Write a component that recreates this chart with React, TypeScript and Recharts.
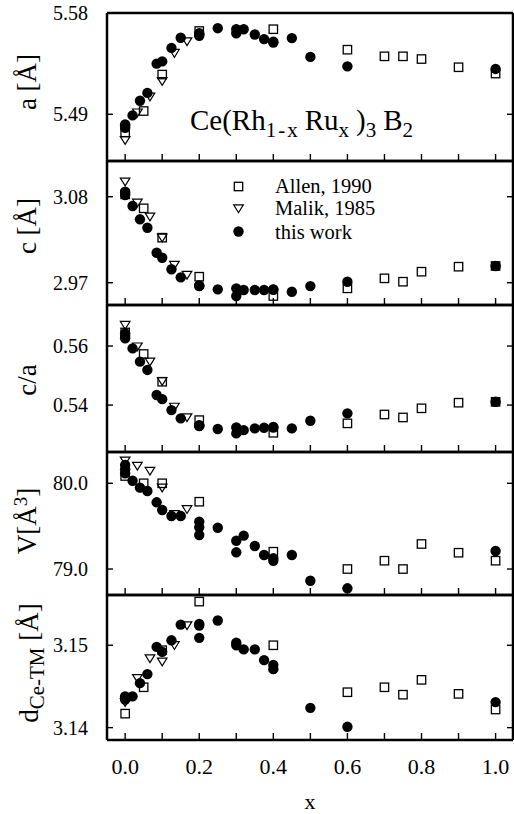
import React from 'react'
import { ScatterChart, Scatter, XAxis, YAxis } from 'recharts'

const FONT = "'Liberation Serif', 'Times New Roman', serif"

// composition x for each data set
const X_TICKS = [0, 0.1, 0.2, 0.3, 0.4, 0.5, 0.6, 0.7, 0.8, 0.9, 1.0]
const ALLEN_X = [0, 0.05, 0.1, 0.2, 0.4, 0.6, 0.7, 0.75, 0.8, 0.9, 1.0]
const MALIK_X = [0, 0.033, 0.067, 0.1, 0.133, 0.167]
const OURS_X = [
  0, 0, 0, 0.02, 0.04, 0.06, 0.085, 0.1, 0.125, 0.15, 0.2, 0.2, 0.2,
  0.25, 0.3, 0.3, 0.32, 0.35, 0.375, 0.4, 0.4, 0.45, 0.5, 0.6, 1.0,
]

// lattice parameter a [Å]
const A_ALLEN = [5.4739, 5.4929, 5.5253, 5.564, 5.5656, 5.5474, 5.5415, 5.5415, 5.5391, 5.5318, 5.5262]
const A_MALIK = [5.467, 5.4915, 5.5056, 5.5194, 5.5444, 5.5547]
const A_OURS = [
  5.481, 5.478, 5.48, 5.489, 5.502, 5.509, 5.535, 5.537, 5.549, 5.558, 5.562, 5.5597, 5.561,
  5.5665, 5.5656, 5.562, 5.5656, 5.5609, 5.5568, 5.5538, 5.5545, 5.5577, 5.541, 5.5326, 5.5303,
]

// lattice parameter c [Å]
const C_ALLEN = [3.083, 3.0652, 3.0276, 2.9777, 2.953, 2.9628, 2.9756, 2.9713, 2.9841, 2.9905, 2.9914]
const C_MALIK = [3.0992, 3.0723, 3.0544, 3.0276, 2.9927, 2.98]
const C_OURS = [
  3.0864, 3.0822, 3.084, 3.0681, 3.0511, 3.0403, 3.0084, 3.002, 2.9872, 2.9769, 2.9657, 2.9665, 2.966,
  2.9615, 2.9628, 2.953, 2.9607, 2.9607, 2.9607, 2.9615, 2.961, 2.9585, 2.9657, 2.9713, 2.9914,
]

// c/a
const CA_ALLEN = [0.5646, 0.5573, 0.5479, 0.5349, 0.5306, 0.5338, 0.5368, 0.5358, 0.5389, 0.5408, 0.5411]
const CA_MALIK = [0.5671, 0.5598, 0.5547, 0.5481, 0.5394, 0.5358]
const CA_OURS = [
  0.5643, 0.5626, 0.5635, 0.5592, 0.5547, 0.5519, 0.5434, 0.542, 0.5383, 0.5355, 0.5329, 0.5332, 0.533,
  0.5319, 0.5324, 0.5304, 0.5315, 0.5321, 0.5323, 0.5326, 0.5324, 0.5321, 0.5347, 0.5372, 0.5411,
]

// cell volume V [Å^3]
const V_ALLEN = [80.085, 80.0, 80.0, 79.785, 79.202, 79.0, 79.097, 79.0, 79.292, 79.19, 79.097]
const V_MALIK = [80.264, 80.202, 80.144, 79.949, 79.64, 79.697]
const V_OURS = [
  80.213, 80.163, 80.117, 80.03, 79.949, 79.91, 79.778, 79.688, 79.618, 79.618, 79.552, 79.486, 79.397,
  79.482, 79.33, 79.195, 79.389, 79.268, 79.163, 79.125, 79.097, 79.163, 78.863, 78.775, 79.21,
]

// Ce-TM distance [Å]
const D_ALLEN = [3.1417, 3.1449, 3.1494, 3.1553, 3.15, 3.1443, 3.1449, 3.144, 3.1458, 3.1441, 3.1422]
const D_MALIK = [3.1431, 3.146, 3.1484, 3.148, 3.15, 3.1524]
const D_OURS = [
  3.1438, 3.1434, 3.1436, 3.1438, 3.1454, 3.1465, 3.1498, 3.1492, 3.1506, 3.1525, 3.1526, 3.1509, 3.1524,
  3.153, 3.1503, 3.15, 3.1495, 3.1495, 3.1482, 3.1476, 3.1471, null, 3.1424, 3.1401, 3.1431,
]

const X_DOMAIN: [number, number] = [-0.049, 1.047]
const PLOT_LEFT = 107
const PLOT_RIGHT = 513

function pts(xs: number[], ys: (number | null)[]) {
  return xs
    .map((x, i) => ({ x, y: ys[i] }))
    .filter((p) => p.y != null)
}

const Square = (p: any) => (
  <rect x={p.cx - 4.2} y={p.cy - 4.2} width={8.4} height={8.4} fill="none" stroke="#000" strokeWidth={1.3} />
)
const Tri = (p: any) => (
  <path
    d={`M${p.cx - 4.8},${p.cy - 3.6} L${p.cx + 4.8},${p.cy - 3.6} L${p.cx},${p.cy + 4.2} Z`}
    fill="none"
    stroke="#000"
    strokeWidth={1.2}
  />
)
const Dot = (p: any) => <circle cx={p.cx} cy={p.cy} r={5.2} fill="#000" />

interface PanelProps {
  top: number
  bottom: number
  domain: [number, number]
  ticks: number[]
  digits: number
  allen: number[]
  malik: number[]
  ours: (number | null)[]
  last?: boolean
}

const axisLine = { stroke: '#000', strokeWidth: 2.5 }

function Panel({ top, bottom, domain, ticks, digits, allen, malik, ours, last }: PanelProps) {
  const mb = last ? 60 : 10
  const plotBottom = bottom - top + 10 // in svg coords

  // inward tick marks, labels only below the last panel
  const xTick = (p: any) => {
    const v = p.payload.value
    const showLabel = last && Math.round(v * 10) % 2 === 0
    return (
      <g>
        <line x1={p.x} x2={p.x} y1={plotBottom} y2={plotBottom - 7} stroke="#000" strokeWidth={1.4} />
        {showLabel && (
          <text x={p.x} y={plotBottom + 34} textAnchor="middle" fontSize={22} fill="#000" fontFamily={FONT} style={{ fontFamily: FONT }}>
            {v.toFixed(1)}
          </text>
        )}
      </g>
    )
  }
  const yTick = (p: any) => (
    <g>
      <line x1={PLOT_LEFT} x2={PLOT_LEFT + 6} y1={p.y} y2={p.y} stroke="#000" strokeWidth={1.4} />
      <text x={88} y={p.y} dy="0.35em" textAnchor="end" fontSize={20} fill="#000" fontFamily={FONT} style={{ fontFamily: FONT }}>
        {p.payload.value.toFixed(digits)}
      </text>
    </g>
  )
  const rTick = (p: any) => (
    <line x1={PLOT_RIGHT} x2={PLOT_RIGHT - 6} y1={p.y} y2={p.y} stroke="#000" strokeWidth={1.4} />
  )

  return (
    <div style={{ position: 'absolute', left: 0, top: top - 10 }}>
      <ScatterChart width={514} height={bottom - top + 10 + mb} margin={{ top: 9, right: 0, bottom: mb - 1, left: 0 }}>
        <XAxis
          dataKey="x"
          type="number"
          domain={X_DOMAIN}
          allowDataOverflow
          ticks={X_TICKS}
          interval={0}
          height={1}
          axisLine={axisLine}
          tickLine={false}
          tick={xTick}
        />
        <XAxis
          xAxisId="top"
          orientation="top"
          type="number"
          domain={X_DOMAIN}
          allowDataOverflow
          height={1}
          tick={false}
          tickLine={false}
          axisLine={axisLine}
        />
        <YAxis
          dataKey="y"
          type="number"
          domain={domain}
          allowDataOverflow
          ticks={ticks}
          interval={0}
          width={107}
          axisLine={axisLine}
          tickLine={false}
          tick={yTick}
        />
        <YAxis
          yAxisId="r"
          orientation="right"
          type="number"
          domain={domain}
          allowDataOverflow
          ticks={ticks}
          interval={0}
          width={1}
          axisLine={axisLine}
          tickLine={false}
          tick={rTick}
        />
        <Scatter data={pts(ALLEN_X, allen)} shape={Square} isAnimationActive={false} />
        <Scatter data={pts(MALIK_X, malik)} shape={Tri} isAnimationActive={false} />
        <Scatter data={pts(OURS_X, ours)} shape={Dot} isAnimationActive={false} />
      </ScatterChart>
    </div>
  )
}

function RotLabel({ x, y, children }: { x: number; y: number; children: React.ReactNode }) {
  return (
    <div
      style={{
        position: 'absolute',
        left: x,
        top: y,
        transform: 'translate(-50%, -50%) rotate(-90deg)',
        whiteSpace: 'nowrap',
        fontSize: 27,
        lineHeight: 1,
        fontFamily: FONT,
      }}
    >
      {children}
    </div>
  )
}

const sub: React.CSSProperties = {
  fontSize: 21,
  position: 'relative',
  top: 7,
  letterSpacing: 2,
  paddingLeft: 0,
  paddingRight: 5,
}

export default function App() {
  return (
    <div style={{ position: 'absolute', left: 0, top: 0, width: 514, height: 814, background: '#fff', fontFamily: FONT, color: '#000' }}>
      <Panel top={13} bottom={161} domain={[5.4485, 5.58]} ticks={[5.49, 5.58]} digits={2} allen={A_ALLEN} malik={A_MALIK} ours={A_OURS} />
      <Panel top={161} bottom={305} domain={[2.9415, 3.1257]} ticks={[2.97, 3.08]} digits={2} allen={C_ALLEN} malik={C_MALIK} ours={C_OURS} />
      <Panel top={305} bottom={452} domain={[0.5241, 0.5739]} ticks={[0.54, 0.56]} digits={2} allen={CA_ALLEN} malik={CA_MALIK} ours={CA_OURS} />
      <Panel top={452} bottom={595} domain={[78.697, 80.365]} ticks={[79.0, 80.0]} digits={1} allen={V_ALLEN} malik={V_MALIK} ours={V_OURS} />
      <Panel top={595} bottom={740} domain={[3.1385, 3.1561]} ticks={[3.14, 3.15]} digits={2} allen={D_ALLEN} malik={D_MALIK} ours={D_OURS} last />

      <RotLabel x={27} y={82}>a [Å]</RotLabel>
      <RotLabel x={27} y={226}>c [Å]</RotLabel>
      <RotLabel x={27} y={380}>c/a</RotLabel>
      <RotLabel x={27} y={521}>
        V[Å<span style={{ fontSize: 19, position: 'relative', top: -9 }}>3</span>]
      </RotLabel>
      <RotLabel x={29} y={663}>
        d<span style={{ fontSize: 21, position: 'relative', top: 6 }}>Ce-TM</span> [Å]
      </RotLabel>

      <div style={{ position: 'absolute', left: 190, top: 106, fontSize: 29, lineHeight: 1, whiteSpace: 'nowrap' }}>
        Ce(Rh<span style={sub}>1-x</span>Ru<span style={sub}>x</span>)<span style={sub}>3</span>B<span style={sub}>2</span>
      </div>

      {[
        { y: 186, label: 'Allen, 1990', shape: <rect x={3.3} y={3.3} width={8.4} height={8.4} fill="none" stroke="#000" strokeWidth={1.3} /> },
        { y: 208, label: 'Malik, 1985', shape: <path d="M2.7,3.9 L12.3,3.9 L7.5,11.7 Z" fill="none" stroke="#000" strokeWidth={1.2} /> },
        { y: 231.5, label: 'this work', shape: <circle cx={7.5} cy={7.5} r={5.2} fill="#000" /> },
      ].map((row) => (
        <div key={row.label}>
          <svg width={15} height={15} style={{ position: 'absolute', left: 230.5, top: row.y - 7.5 }}>
            {row.shape}
          </svg>
          <div style={{ position: 'absolute', left: 275, top: row.y - 11, fontSize: 20.5, lineHeight: '22px', whiteSpace: 'nowrap' }}>
            {row.label}
          </div>
        </div>
      ))}

      <div style={{ position: 'absolute', left: 310, top: 802, transform: 'translate(-50%, -50%)', fontSize: 22, lineHeight: 1 }}>x</div>
    </div>
  )
}
